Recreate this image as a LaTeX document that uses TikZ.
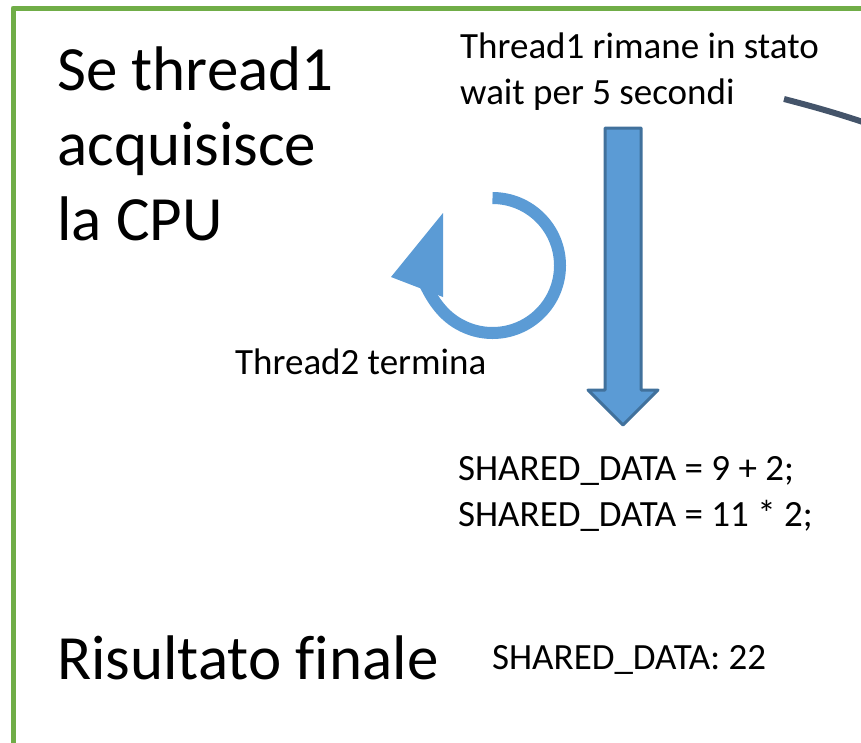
\documentclass[tikz,border=0pt]{standalone}
\usepackage{fontspec}
\setmainfont{Carlito}[Ligatures=NoCommon]
\definecolor{grn}{HTML}{70AD47}
\definecolor{blu}{HTML}{5B9BD5}
\definecolor{bluedge}{HTML}{41719C}
\definecolor{slate}{HTML}{44546A}
\tikzset{
  big/.style={anchor=west,inner sep=0pt,align=left,font=\fontsize{63}{75}\selectfont},
  small/.style={anchor=west,inner sep=0pt,align=left,font=\fontsize{37}{46}\selectfont}
}
\begin{document}
\begin{tikzpicture}[x=1pt,y=-1pt,line join=round]
			\useasboundingbox (0,0) rectangle (861,742);
			\draw[grn,line width=5pt] (13,760)--(13,8)--(880,8);
			\node[big] (cpu) at (57,144) {Se thread1\\acquisisce\\la CPU};
			\node[small] (wait) at (460,72) {Thread1 rimane in stato\\wait per 5 secondi};
			\node[small] (t2) at (235,362) {Thread2 termina};
			\node[small] (ops) at (458,494) {SHARED\_DATA = 9 + 2;\\SHARED\_DATA = 11 * 2;};
			\node[big] (fin) at (57,658) {Risultato finale};
			\node[small] (res) at (492,660) {SHARED\_DATA: 22};
			% linea verso destra
			\coordinate (l1) at (784,99);
			\coordinate (l2) at (875,126);
			\draw[slate,line width=6pt] (l1) to[bend left=2] (l2);
			% freccia circolare
			\draw[blu,line width=12pt] (492.5,198) arc[start angle=-90,end angle=120,radius=67.5]
			  .. controls (441,314) and (431,297) .. (424,282);
			\fill[blu] (443,213)--(391,277)--(443,297)--cycle;
			% freccia verso il basso
			\draw[fill=blu,draw=bluedge,line width=3pt] (605,128)--(641,128)--(641,390)--(658,390)--(623,425)--(588,390)--(605,390)--cycle;
\end{tikzpicture}
\end{document}
